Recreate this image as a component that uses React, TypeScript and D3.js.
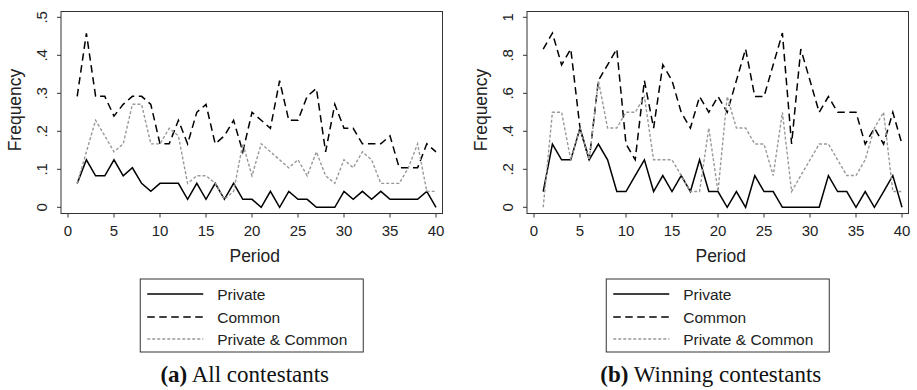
import React from "react";
import * as d3 from "d3";

const periods: number[] = Array.from({ length: 40 }, (_, i) => i + 1);

// (a) All contestants
const allPrivate = [.063,.125,.083,.083,.125,.083,.104,.063,.042,.063,.063,.063,.021,.063,.021,.063,.021,.063,.021,.021,0,.042,0,.042,.021,.021,0,0,0,.042,.021,.042,.021,.042,.021,.021,.021,.021,.042,0];
const allCommon = [.292,.458,.292,.292,.24,.271,.292,.292,.271,.167,.167,.229,.167,.25,.271,.167,.188,.229,.146,.25,.229,.208,.333,.229,.229,.292,.313,.146,.271,.208,.208,.167,.167,.167,.188,.104,.104,.104,.167,.146];
const allBoth = [.063,.146,.229,.188,.146,.167,.271,.271,.167,.167,.208,.188,.063,.083,.083,.063,.021,.042,.167,.083,.167,.146,.125,.104,.125,.083,.146,.083,.063,.125,.104,.146,.125,.063,.063,.063,.104,.167,.042,.042];

// (b) Winning contestants
const winPrivate = [.083,.333,.25,.25,.417,.25,.333,.25,.083,.083,.167,.25,.083,.167,.083,.167,.083,.25,.083,.083,0,.083,0,.167,.083,.083,0,0,0,0,0,.167,.083,.083,0,.083,0,.083,.167,0];
const winCommon = [.833,.917,.75,.833,.417,.25,.667,.75,.833,.333,.25,.667,.417,.75,.667,.5,.417,.583,.5,.583,.5,.667,.833,.583,.583,.75,.917,.333,.833,.667,.5,.583,.5,.5,.5,.333,.417,.333,.5,.333];
const winBoth = [0,.5,.5,.25,.417,.25,.667,.417,.417,.5,.5,.583,.25,.25,.25,.167,.083,.083,.417,.083,.583,.417,.417,.333,.333,.167,.5,.083,.167,.25,.333,.333,.25,.167,.167,.25,.417,.5,.083,.083];

const xTicks = [0, 5, 10, 15, 20, 25, 30, 35, 40];
const yTicksA = [0, 0.1, 0.2, 0.3, 0.4, 0.5];
const yTicksB = [0, 0.2, 0.4, 0.6, 0.8, 1];
const seriesNames = ["Private", "Common", "Private & Common"];

const styles = [
  { stroke: "#000", width: 1.5, dash: "" },
  { stroke: "#000", width: 1.5, dash: "7.5,4.5" },
  { stroke: "#999", width: 1.4, dash: "3,2" },
];

const SANS = "'Liberation Sans', Arial, Helvetica, sans-serif";
const SERIF = "'Liberation Serif', 'Times New Roman', serif";

function fmtTick(v: number) {
  if (v === 0) return "0";
  if (v === 1) return "1";
  return d3.format(".1f")(v).replace(/^0/, "");
}

type PanelProps = {
  left: number;
  yMax: number;
  yTicks: number[];
  series: number[][];
  tag: string;
  caption: string;
};

function Panel({ left, yMax, yTicks, series, tag, caption }: PanelProps) {
  const frameL = left;
  const frameR = left + 381.5;
  const frameT = 11.5;
  const frameB = 213.5;
  const x = d3.scaleLinear().domain([0, 40]).range([left + 7, left + 375]);
  const y = d3.scaleLinear().domain([0, yMax]).range([207.3, 17.3]);
  const line = d3
    .line<number>()
    .x((_, i) => x(periods[i]))
    .y((d) => y(d));
  const cx = (frameL + frameR) / 2;
  const legW = 223;
  const legL = cx - legW / 2;
  const legT = 279;
  const rowY = [294, 317, 339];
  return (
    <g>
      <rect x={frameL} y={frameT} width={frameR - frameL} height={frameB - frameT} fill="#fff" stroke="#333" strokeWidth={1} />
      {yTicks.map((t) => (
        <g key={"y" + t}>
          <line x1={frameL - 4} x2={frameL} y1={y(t)} y2={y(t)} stroke="#333" />
          <text
            transform={`translate(${frameL - 14},${y(t)}) rotate(-90)`}
            textAnchor="middle"
            fontFamily={SANS}
            fontSize={15}
            fill="#222"
          >
            {fmtTick(t)}
          </text>
        </g>
      ))}
      {xTicks.map((t) => (
        <g key={"x" + t}>
          <line x1={x(t)} x2={x(t)} y1={frameB} y2={frameB + 4} stroke="#333" />
          <text x={x(t)} y={235.5} textAnchor="middle" fontFamily={SANS} fontSize={15} fill="#222">
            {t}
          </text>
        </g>
      ))}
      <text
        transform={`translate(${frameL - 40},110) rotate(-90)`}
        textAnchor="middle"
        fontFamily={SANS}
        fontSize={17.5}
        fill="#222"
      >
        Frequency
      </text>
      <text x={cx + 3} y={261.5} textAnchor="middle" fontFamily={SANS} fontSize={17.5} fill="#222">
        Period
      </text>
      {series.map((s, i) => (
        <path
          key={"s" + i}
          d={line(s) || ""}
          fill="none"
          stroke={styles[i].stroke}
          strokeWidth={styles[i].width}
          strokeDasharray={styles[i].dash || undefined}
          strokeLinejoin="miter"
        />
      ))}
      <rect x={legL} y={legT} width={legW} height={73} fill="#fff" stroke="#333" strokeWidth={1} />
      {seriesNames.map((n, i) => (
        <g key={"l" + i}>
          <line
            x1={legL + 7}
            x2={legL + 63}
            y1={rowY[i]}
            y2={rowY[i]}
            stroke={styles[i].stroke}
            strokeWidth={styles[i].width}
            strokeDasharray={styles[i].dash || undefined}
          />
          <text x={legL + 77} y={rowY[i] + 5.5} fontFamily={SANS} fontSize={15.5} fill="#222">
            {n}
          </text>
        </g>
      ))}
      <text x={cx - 7} y={382} textAnchor="middle" fontFamily={SERIF} fontSize={23} fill="#111">
        <tspan fontWeight="bold">{tag}</tspan> {caption}
      </text>
    </g>
  );
}

export default function App() {
  return (
    <svg
      width={917}
      height={390}
      style={{ position: "absolute", left: 0, top: 0, background: "#fff" }}
    >
      <rect x={0} y={0} width={917} height={390} fill="#fff" />
      <Panel left={61} yMax={0.5} yTicks={yTicksA} series={[allPrivate, allCommon, allBoth]} tag="(a)" caption="All contestants" />
      <Panel left={527} yMax={1} yTicks={yTicksB} series={[winPrivate, winCommon, winBoth]} tag="(b)" caption="Winning contestants" />
    </svg>
  );
}
